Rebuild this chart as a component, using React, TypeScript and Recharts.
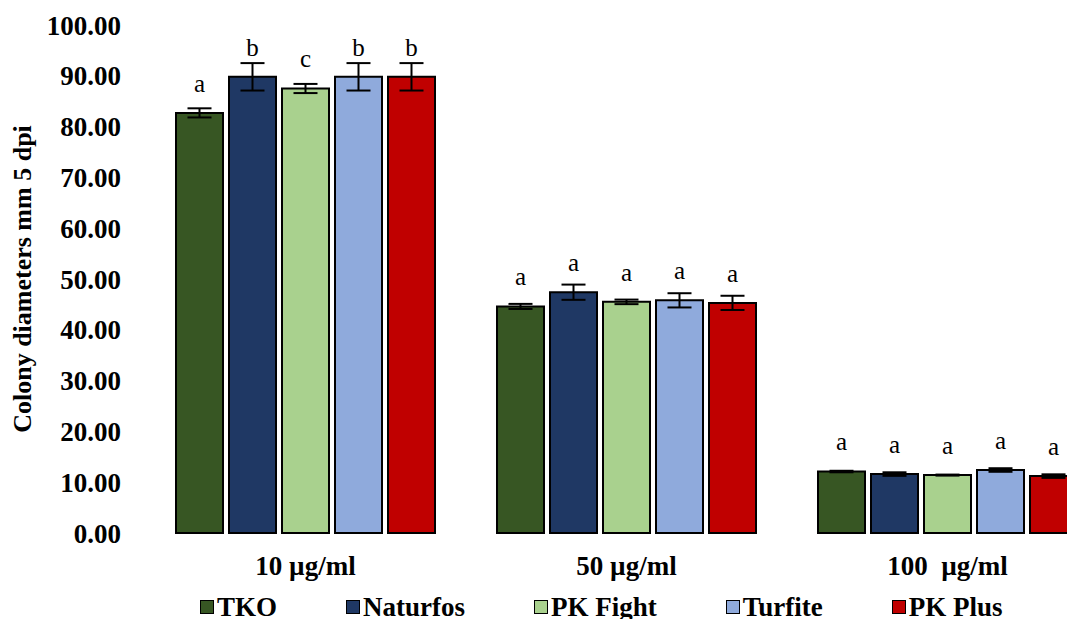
import React from 'react';
import { BarChart, Bar, XAxis, YAxis, ErrorBar, LabelList, Legend } from 'recharts';

const categories = ['10 µg/ml', '50 µg/ml', '100  µg/ml'];
const seriesNames = ['TKO', 'Naturfos', 'PK Fight', 'Turfite', 'PK Plus'];

const tko = [82.7, 44.6, 12.1];
const tkoErr = [0.9, 0.5, 0.15];
const tkoLetters = ['a', 'a', 'a'];

const naturfos = [89.8, 47.4, 11.6];
const naturfosErr = [2.7, 1.5, 0.35];
const naturfosLetters = ['b', 'a', 'a'];

const pkFight = [87.5, 45.5, 11.4];
const pkFightErr = [0.9, 0.45, 0.1];
const pkFightLetters = ['c', 'a', 'a'];

const turfite = [89.8, 45.8, 12.4];
const turfiteErr = [2.7, 1.4, 0.35];
const turfiteLetters = ['b', 'a', 'a'];

const pkPlus = [89.8, 45.3, 11.2];
const pkPlusErr = [2.7, 1.4, 0.35];
const pkPlusLetters = ['b', 'a', 'a'];

const yTicks = [0, 10, 20, 30, 40, 50, 60, 70, 80, 90, 100];

const colors = ['#375623', '#1F3864', '#A9D18E', '#8FAADC', '#C00000'];
const keys = ['tko', 'naturfos', 'pkFight', 'turfite', 'pkPlus'];

const data = categories.map((category, i) => ({
  category,
  tko: tko[i], tkoErr: tkoErr[i], tkoLetter: tkoLetters[i],
  naturfos: naturfos[i], naturfosErr: naturfosErr[i], naturfosLetter: naturfosLetters[i],
  pkFight: pkFight[i], pkFightErr: pkFightErr[i], pkFightLetter: pkFightLetters[i],
  turfite: turfite[i], turfiteErr: turfiteErr[i], turfiteLetter: turfiteLetters[i],
  pkPlus: pkPlus[i], pkPlusErr: pkPlusErr[i], pkPlusLetter: pkPlusLetters[i],
}));

const FONT = "'Liberation Serif', 'Times New Roman', serif";

const LetterLabel = (props: any) => {
  const { x, y, width, value } = props;
  return (
    <text x={x + width / 2} y={y - 30} dy="0.35em" textAnchor="middle"
      fontFamily={FONT} fontSize={25} fill="#000">
      {value}
    </text>
  );
};

const CategoryTick = ({ x, y, payload }: any) => (
  <text x={x} y={y + 40} textAnchor="middle" fontFamily={FONT} fontSize={27}
    fontWeight="bold" fill="#000" style={{ whiteSpace: 'pre' }}>
    {payload.value}
  </text>
);

const YLabel = ({ viewBox }: any) => {
  const cy = viewBox.y + viewBox.height / 2;
  return (
    <text x={22} y={cy} transform={`rotate(-90, 22, ${cy})`} textAnchor="middle"
      dy="0.35em" fontFamily={FONT} fontSize={26} fontWeight="bold" fill="#000">
      Colony diameters mm 5 dpi
    </text>
  );
};

const LegendContent = () => (
  <div style={{ display: 'flex', gap: 69, fontFamily: FONT, fontWeight: 'bold', fontSize: 27, lineHeight: '30px' }}>
    {seriesNames.map((name, i) => (
      <div key={name} style={{ display: 'flex', alignItems: 'center' }}>
        <span style={{ width: 12, height: 12, background: colors[i], border: '1px solid #000', marginRight: 3, display: 'inline-block' }} />
        <span>{name}</span>
      </div>
    ))}
  </div>
);

export default function App() {
  return (
    <div style={{ position: 'absolute', left: 0, top: 0, width: 1067, height: 619, overflow: 'hidden', background: '#fff', fontFamily: FONT }}>
      <BarChart width={1110} height={619} data={data}
        margin={{ top: 25, right: 2, bottom: 46, left: 0 }}
        barCategoryGap={31} barGap={6}>
        <XAxis dataKey="category" axisLine={false} tickLine={false} height={40}
          tickSize={0} tick={<CategoryTick />} interval={0} />
        <YAxis domain={[0, 100]} ticks={yTicks} width={145} axisLine={false} tickLine={false}
          tickSize={0} tickMargin={24} tickFormatter={(v: number) => v.toFixed(2)}
          tick={{ fontFamily: FONT, fontSize: 27, fontWeight: 'bold', fill: '#000' }}
          label={<YLabel />} />
        <Legend layout="horizontal" verticalAlign="middle" align="center"
          wrapperStyle={{ top: 592, left: 200, width: 900 }} content={<LegendContent />} />
        {keys.map((k, i) => (
          <Bar key={k} dataKey={k} name={seriesNames[i]} fill={colors[i]} stroke="#000"
            strokeWidth={2} isAnimationActive={false}>
            <ErrorBar dataKey={`${k}Err`} width={12} stroke="#000" strokeWidth={2} />
            <LabelList dataKey={`${k}Letter`} content={<LetterLabel />} />
          </Bar>
        ))}
      </BarChart>
    </div>
  );
}
